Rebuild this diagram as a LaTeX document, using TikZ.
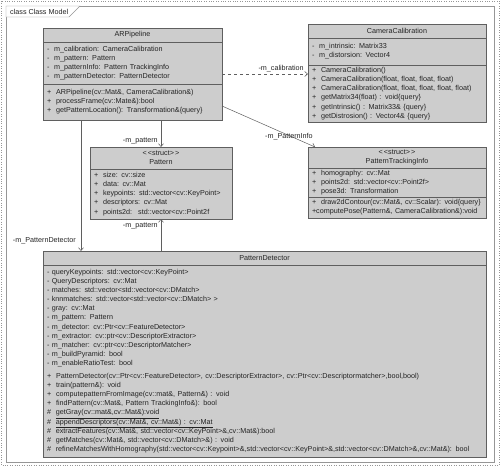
\documentclass[tikz,border=0pt]{standalone}
\usepackage{fontspec}
\setmainfont{Liberation Sans}
\usepackage{tikz}
\usetikzlibrary{arrows.meta,positioning,calc}
\definecolor{umlrelleno}{RGB}{205,205,205}
\definecolor{umlborde}{RGB}{95,95,95}
\definecolor{umltexto}{RGB}{35,35,35}
\definecolor{umlmarco}{RGB}{150,150,150}
\tikzset{
  cab/.style={rectangle,draw=umlborde,fill=umlrelleno,line width=0.6pt,outer sep=0pt,
    minimum width=#1,minimum height=14pt,inner sep=1pt,align=center,text=umltexto,
    font=\fontsize{7.2}{9.1}\selectfont},
  sec/.style={rectangle,draw=umlborde,fill=umlrelleno,line width=0.6pt,outer sep=0pt,
    text width=#1,inner xsep=4pt,inner ysep=2pt,align=left,text=umltexto,
    font=\fontsize{7.2}{9.1}\selectfont},
  flecha/.style={-{Straight Barb[length=3pt,width=5pt]},umlborde,line width=0.5pt},
  etiq/.style={text=umltexto,inner sep=0pt,font=\fontsize{7.2}{8}\selectfont},
}
\begin{document}
\begin{tikzpicture}[x=1pt,y=-1pt]
  \useasboundingbox (0,0) rectangle (500,466);
  \draw[umlmarco,dotted] (1,1) rectangle (499,465);
  \draw[umlmarco] (6,6) rectangle (494,462);
  \draw[umlmarco,fill=white] (6,6) -- (80,6) -- (69,17) -- (6,17) -- cycle;
  \node[etiq,anchor=west] (marco) at (10,11.5) {class Class Model};

  \node[cab=179pt,anchor=north west] (arp) at (43,28) {ARPipeline};
  \node[sec=171pt,minimum height=42pt,below=0pt of arp] (arp-a)
    {- \ m\_calibration: CameraCalibration\\- \ m\_pattern: Pattern\\- \ m\_patternInfo: Pattern TrackingInfo\\- \ m\_patternDetector: PatternDetector};
  \node[sec=171pt,minimum height=36pt,below=0pt of arp-a] (arp-o)
    {+ \ ARPipeline(cv::Mat\&, CameraCalibration\&)\\+ \ processFrame(cv::Mate\&):bool\\+ \ getPatternLocation(): Transformation\&\{query\}};

  \node[cab=178pt,anchor=north west] (cam) at (308,24) {CameraCalibration};
  \node[sec=170pt,minimum height=27pt,below=0pt of cam] (cam-a)
    {- \ m\_intrinsic: Matrix33\\- \ m\_distorsion: Vector4};
  \node[sec=170pt,minimum height=57pt,below=0pt of cam-a] (cam-o)
    {+ \ CameraCalibration()\\+ \ CameraCalibration(float, float, float, float)\\+ \ CameraCalibration(float, float, float, float, float)\\+ \ getMatrix34(float) : void\{query\}\\+ \ getIntrinsic() : Matrix33\& \{query\}\\+ \ getDistrosion() : Vector4\& \{query\}};

  \node[cab=142pt,minimum height=22pt,anchor=north west] (pat) at (90,147)
    {<\,<struct>\,>\\Pattern};
  \node[sec=134pt,minimum height=50pt,below=0pt of pat] (pat-a)
    {+ \ size: cv::size\\+ \ data: cv::Mat\\+ \ keypoints: std::vector<cv::KeyPoint>\\+ \ descriptors: cv::Mat\\+ \ points2d: \ std::vector<cv::Point2f};

  \node[cab=178pt,minimum height=21pt,anchor=north west] (pti) at (308,147)
    {<\,<struct>\,>\\PatternTrackingInfo};
  \node[sec=170pt,minimum height=28pt,below=0pt of pti] (pti-a)
    {+ \ homography: cv::Mat\\+ \ points2d: std::vector<cv::Point2f>\\+ \ pose3d: Transformation};
  \node[sec=170pt,minimum height=21pt,below=0pt of pti-a] (pti-o)
    {+ \ draw2dContour(cv::Mat\&, cv::Scalar): void\{query\}\\+computePose(Pattern\&, CameraCalibration\&):void};

  \node[cab=443pt,anchor=north west] (pd) at (43,251) {PatternDetector};
  \node[sec=435pt,minimum height=192pt,below=0pt of pd] (pd-c)
    {- queryKeypoints: std::vector<cv::KeyPoint>\\- QueryDescriptors: cv::Mat\\- matches: std::vector<std::vector<cv::DMatch>\\- knnmatches: std::vector<std::vector<cv::DMatch> >\\- gray: cv::Mat\\- m\_pattern: Pattern\\- m\_detector: cv::Ptr<cv::FeatureDetector>\\- m\_extractor: cv::ptr<cv::DescriptorExtractor>\\- m\_matcher: cv::ptr<cv::DescriptorMatcher>\\- m\_buildPyramid: bool\\- m\_enableRatioTest: bool\\[4pt]
     + \ PatternDetector(cv::Ptr<cv::FeatureDetector>, cv::DescriptorExtractor>, cv::Ptr<cv::Descriptormatcher>,bool,bool)\\+ \ train(pattern\&): void\\+ \ computepatternFromImage(cv::mat\&, Pattern\&) : void\\+ \ findPattern(cv::Mat\&, Pattern TrackingInfo\&): bool\\\# \ \underline{getGray(cv::mat\&,cv::Mat\&):void}\\\# \ \underline{appendDescriptors(cv::Mat\&, cv::Mat\&) : cv::Mat}\\\# \ extractFeatures(cv::Mat\&, std::vector<cv::KeyPoint>\&,cv::Mat\&):bool\\\# \ getMatches(cv::Mat\&, std::vector<cv::DMatch>\&) : void\\\# \ refineMatchesWithHomography(std::vector<cv::Keypoint>\&,std::vector<cv::KeyPoint>\&,std::vector<cv::DMatch>\&,cv::Mat\&): bool};

  \draw[flecha,dashed] ([yshift=-11pt]arp-a.east) coordinate (c1) -- (c1 -| cam-o.west)
    node[etiq,pos=1,anchor=south east,xshift=-4pt,yshift=2pt] (l1) {-m\_calibration};
  \draw[flecha] ([yshift=-4pt]arp-o.east) -- ([xshift=7pt]pti.north west)
    node[etiq,pos=1,anchor=east,xshift=-2pt,yshift=10pt] (l2) {-m\_PatternInfo};
  \draw[flecha] (pat.north |- arp-o.south) -- (pat.north)
    node[etiq,pos=1,anchor=east,xshift=-3pt,yshift=6pt] (l3) {-m\_pattern};
  \draw[flecha] (pat-a.south |- pd.north) -- (pat-a.south)
    node[etiq,pos=1,anchor=east,xshift=-3pt,yshift=-7pt] (l4) {-m\_pattern};
  \draw[flecha] ([xshift=38pt]arp-o.south west) coordinate (c2) -- (c2 |- pd.north)
    node[etiq,pos=1,anchor=east,xshift=-5pt,yshift=10pt] (l5) {-m\_PatternDetector};
\end{tikzpicture}
\end{document}
